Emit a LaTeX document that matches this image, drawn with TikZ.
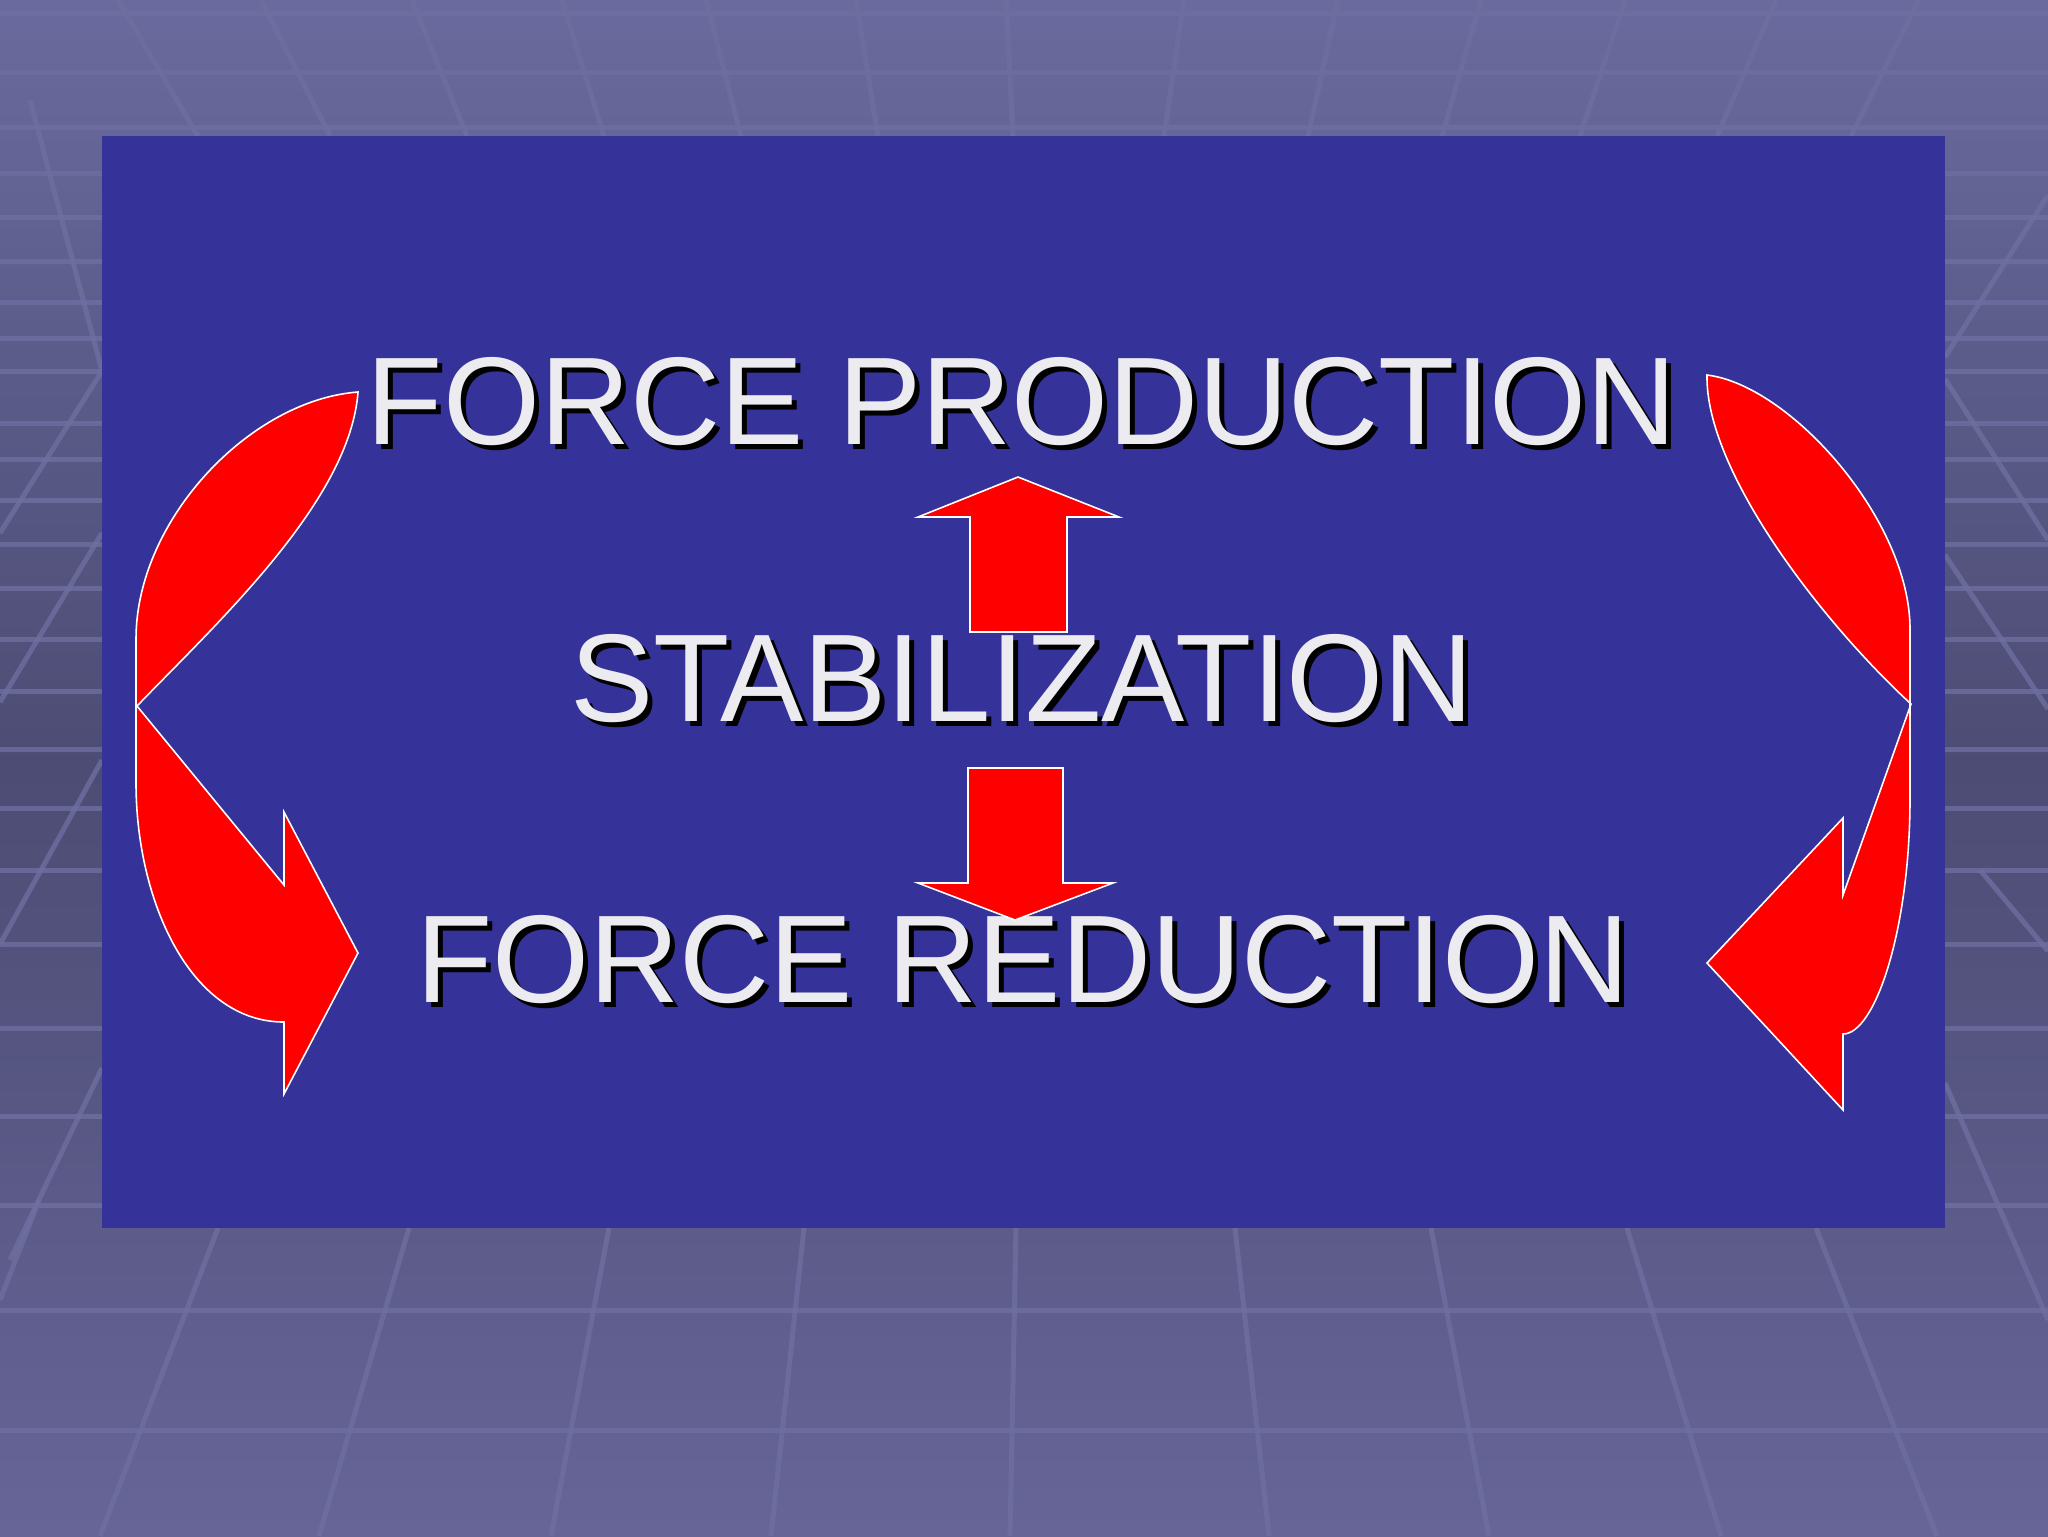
\documentclass[tikz,border=0pt]{standalone}
\usepackage{fontspec}
\setmainfont{Liberation Sans}

\definecolor{bgtop}{RGB}{106,106,158}
\definecolor{bgmid}{RGB}{76,76,116}
\definecolor{bgbot}{RGB}{103,101,152}
\definecolor{gridline}{RGB}{110,110,160}
\definecolor{slideblue}{RGB}{53,51,153}
\definecolor{titlegray}{RGB}{236,236,240}

\tikzset{
    gridln/.style={draw=gridline, line width=0.5mm, opacity=0.8},
    bigtext/.style={font=\fontsize{35.5}{42}\selectfont, inner sep=0pt, anchor=base},
    redarrow/.style={fill=red, draw=white, line width=0.45pt, line join=miter},
}

\begin{document}
\begin{tikzpicture}[x=0.1mm, y=-0.1mm]
        \useasboundingbox (0,0) rectangle (2048,1536);
        \clip (0,0) rectangle (2048,1536);

        % background room
        \shade[top color=bgtop, bottom color=bgbot, middle color=bgmid] (0,0) rectangle (2048,1536);
        \foreach \y in {13,72,127,1205,1310,1430}
            \draw[gridln] (0,\y) -- (2048,\y);
        \foreach \y in {173,217,261,302,338,371,423,459,500,544,588,639,691,749,808,870,944,1028,1116}
            \draw[gridln] (0,\y) -- (102,\y) (1945,\y) -- (2048,\y);
        \foreach \a/\b in {118/198,261/330,412/467,562/604,706/741,856/878,1006/1013,1184/1164,1338/1308,1481/1442,1625/1580,1776/1717,1919/1851}
            \draw[gridln] (\a,0) -- (\b,136);
        \foreach \a/\b in {218/100,409/319,609/551,804/771,1016/1010,1235/1269,1431/1489,1627/1721,1816/1937}
            \draw[gridln] (\a,1228) -- (\b,1536);
        \draw[gridln] (30,100) -- (102,371) -- (0,533);
        \draw[gridln] (102,533) -- (0,702);
        \draw[gridln] (102,760) -- (0,944);
        \draw[gridln] (102,1068) -- (10,1260);
        \draw[gridln] (39,1200) -- (0,1300);
        \draw[gridln] (1945,357) -- (2048,195);
        \draw[gridln] (1945,379) -- (2048,540);
        \draw[gridln] (1945,555) -- (2048,709);
        \draw[gridln] (1980,870) -- (2048,951);
        \draw[gridln] (1945,1083) -- (2048,1320);

        % slide
        \fill[slideblue] (102,136) rectangle (1945,1228);

        % texts
        \node[bigtext, text=black] (prodshadow) at (1027,449) {FORCE PRODUCTION};
        \node[bigtext, text=titlegray] (prod) at (1022,444) {FORCE PRODUCTION};
        \node[bigtext, text=black] (stabshadow) at (1027,726) {STABILIZATION};
        \node[bigtext, text=titlegray] (stab) at (1022,721) {STABILIZATION};
        \node[bigtext, text=black] (redshadow) at (1028,1007) {FORCE REDUCTION};
        \node[bigtext, text=titlegray] (red) at (1023,1002) {FORCE REDUCTION};

        % left curved arrow
        \draw[redarrow] (358,392) .. controls (250,400) and (136,520) .. (136,639) -- (136,783)
            .. controls (136,900) and (190,1022) .. (284,1022) -- (284,1094) -- (358,953) -- (284,812)
            -- (284,885) -- (137,706) .. controls (220,620) and (350,500) .. (358,392) -- cycle;

        % right curved arrow
        \draw[redarrow] (1707,375) .. controls (1790,385) and (1910,520) .. (1910,629) -- (1910,798)
            .. controls (1910,930) and (1875,1034) .. (1843,1034) -- (1843,1110) -- (1707,963) -- (1843,818)
            -- (1843,895) -- (1911,704) .. controls (1820,620) and (1705,470) .. (1707,375) -- cycle;

        % up and down arrows
        \draw[redarrow] (1018,477) -- (1119,517) -- (1067,517) -- (1067,632) -- (970,632) -- (970,517) -- (918,517) -- cycle;
        \draw[redarrow] (968,768) -- (1063,768) -- (1063,883) -- (1113,883) -- (1015,920) -- (918,883) -- (968,883) -- cycle;
    \end{tikzpicture}
\end{document}
